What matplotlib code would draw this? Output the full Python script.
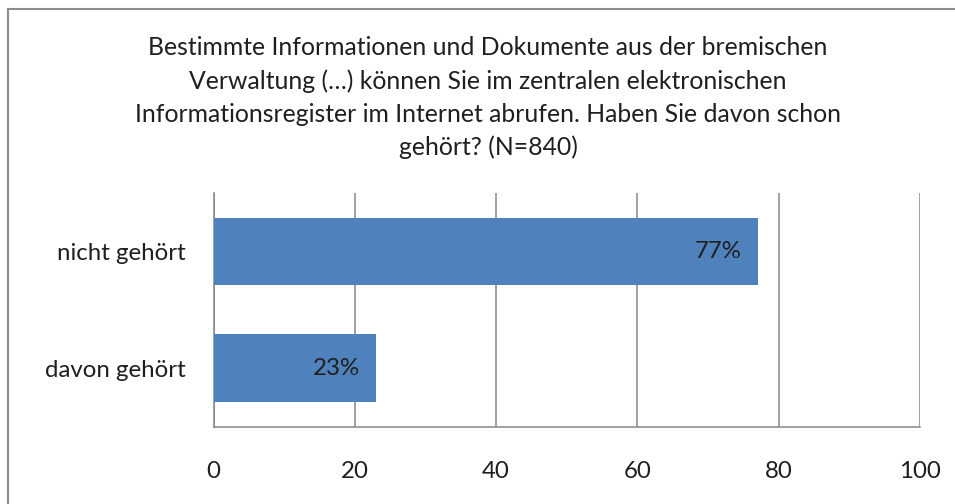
import matplotlib.pyplot as plt
from matplotlib.patches import Rectangle

plt.rcParams['font.family'] = ['Lato', 'DejaVu Sans']

title = ("Bestimmte Informationen und Dokumente aus der bremischen\n"
         "Verwaltung (…) können Sie im zentralen elektronischen\n"
         "Informationsregister im Internet abrufen. Haben Sie davon schon\n"
         "gehört? (N=840)")
categories = ["davon gehört", "nicht gehört"]
values = [23, 77]
value_labels = ["23%", "77%"]
xticks = [0, 20, 40, 60, 80, 100]

text_color = '#1f1f1f'
grid_color = '#868686'
bar_color = '#4F81BD'
fs = 17.3

fig = plt.figure(figsize=(9.55, 5.04), dpi=100)
fig.patch.set_facecolor('white')
# chart-area border (runs off the right/bottom edge like the original)
fig.patches.append(Rectangle((8 / 955, -0.05), 1.0, 1 - 9 / 504 + 0.05,
                             transform=fig.transFigure, fill=False,
                             edgecolor='#8c8c8c', linewidth=1.5))

ax = fig.add_axes([213.5 / 955, 1 - 426.7 / 504, (920 - 213.5) / 955, (426.7 - 193) / 504])
y = range(len(categories))
bars = ax.barh(y, values, height=0.58, color=bar_color, zorder=3)
for b, lab in zip(bars, value_labels):
    ax.text(b.get_width() - 2.3, b.get_y() + b.get_height() / 2, lab,
            ha='right', va='center', fontsize=fs, color=text_color, zorder=4)

ax.set_xlim(0, 100)
ax.set_ylim(-0.5, 1.5)
ax.set_xticks(xticks)
ax.set_yticks(list(y))
ax.set_yticklabels(categories)
ax.tick_params(axis='both', length=0, labelsize=fs, labelcolor=text_color)
ax.tick_params(axis='x', pad=25)
ax.tick_params(axis='y', pad=20)
ax.grid(axis='x', color=grid_color, linewidth=1.1, zorder=0)
for s in ['top', 'right']:
    ax.spines[s].set_visible(False)
for s in ['left', 'bottom']:
    ax.spines[s].set_color(grid_color)
    ax.spines[s].set_linewidth(1.1)

fig.text(488 / 955, 1 - 36 / 504, title, ha='center', va='top', fontsize=17.8,
         color=text_color, linespacing=1.52)

fig.savefig('out.png', dpi=100)
